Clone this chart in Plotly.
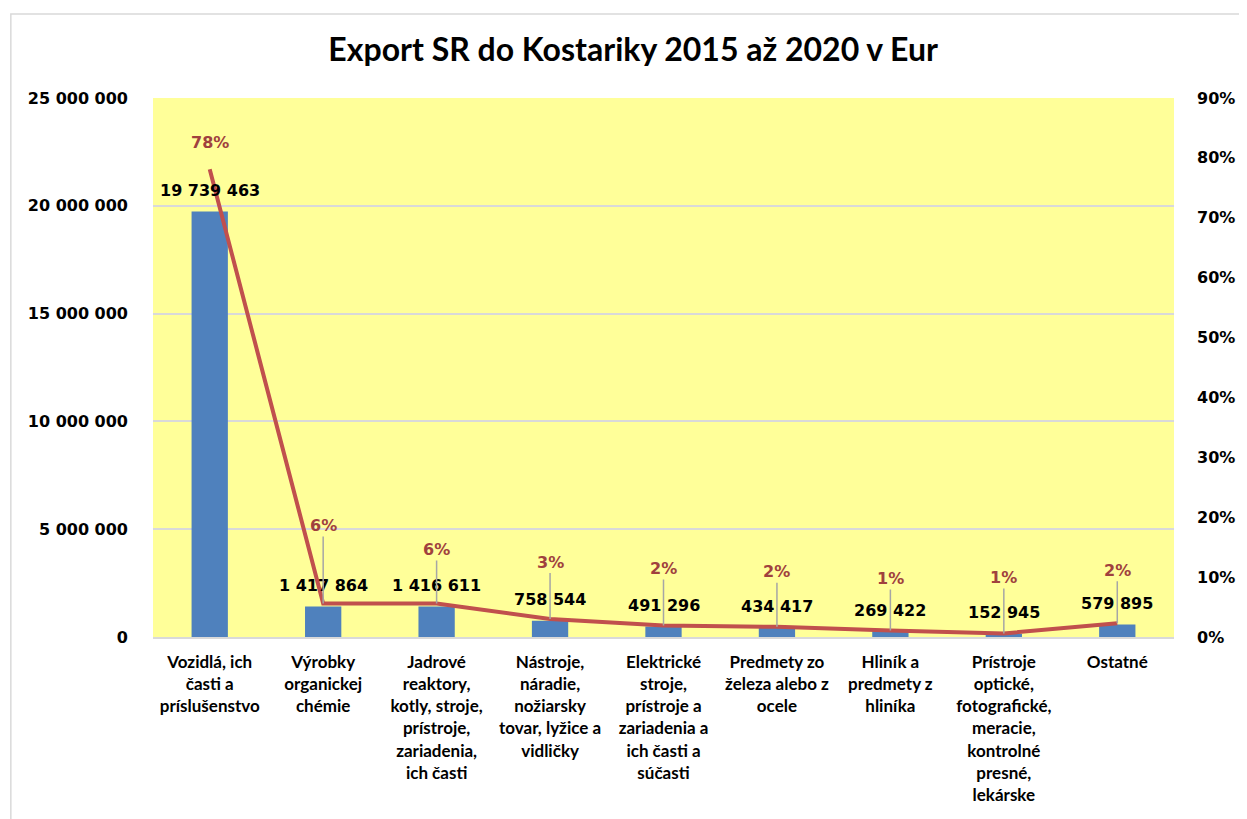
import plotly.graph_objects as go

categories = [
    "Vozidlá, ich<br>časti a<br>príslušenstvo",
    "Výrobky<br>organickej<br>chémie",
    "Jadrové<br>reaktory,<br>kotly, stroje,<br>prístroje,<br>zariadenia,<br>ich časti",
    "Nástroje,<br>náradie,<br>nožiarsky<br>tovar, lyžice a<br>vidličky",
    "Elektrické<br>stroje,<br>prístroje a<br>zariadenia a<br>ich časti a<br>súčasti",
    "Predmety zo<br>železa alebo z<br>ocele",
    "Hliník a<br>predmety z<br>hliníka",
    "Prístroje<br>optické,<br>fotografické,<br>meracie,<br>kontrolné<br>presné,<br>lekárske",
    "Ostatné",
]
export_eur = [19739463, 1417864, 1416611, 758544, 491296, 434417, 269422, 152945, 579895]
share_pct = [78.1, 5.6, 5.6, 3.0, 1.9, 1.7, 1.1, 0.6, 2.3]
share_labels = ["78%", "6%", "6%", "3%", "2%", "2%", "1%", "1%", "2%"]
left_ticks = [0, 5000000, 10000000, 15000000, 20000000, 25000000]
left_tick_text = ["0", "5 000 000", "10 000 000", "15 000 000", "20 000 000", "25 000 000"]

BAR = "#4F81BD"
LINE = "#C0504D"
PCT = "#A0413E"
GRID = "#D9D9D9"
TICKFONT = dict(family="DejaVu Sans", size=16, color="#000000")

# page body has an 8px margin, so the figure is offset by 8px
W, H = 1239, 811
L, T = 145, 90
PW, PH = 1027, 539

fig = go.Figure()
fig.add_trace(go.Bar(x=categories, y=export_eur, marker=dict(color=BAR, line=dict(width=0)),
                     width=0.32, yaxis="y", hoverinfo="y"))
fig.add_trace(go.Scatter(x=categories, y=share_pct, mode="lines", yaxis="y2",
                         line=dict(color=LINE, width=4)))

annotations = []
for c, v in zip(categories, export_eur):
    annotations.append(dict(x=c, y=v, xref="x", yref="y", text="<b>" + f"{v:,}".replace(",", " ") + "</b>",
                            showarrow=False, yshift=21, font=dict(family="DejaVu Sans", size=16, color="#000"),
                            yanchor="middle"))
pct_offsets = [27, 78, 54, 57, 57, 55, 52, 56, 53]
for i, (c, p, lab) in enumerate(zip(categories, share_pct, share_labels)):
    if i == 0:
        annotations.append(dict(x=c, y=p, xref="x", yref="y2", text="<b>" + lab + "</b>", showarrow=False,
                                yshift=pct_offsets[i], font=dict(family="DejaVu Sans", size=16, color=PCT)))
    else:
        annotations.append(dict(x=c, y=p, xref="x", yref="y2", text="<b>" + lab + "</b>", showarrow=True,
                                arrowhead=0, arrowwidth=1.5, arrowcolor="#A6A6A6", ax=0, ay=-pct_offsets[i],
                                standoff=0, font=dict(family="DejaVu Sans", size=16, color=PCT)))

fig.update_layout(
    width=W, height=H,
    margin=dict(l=L, r=W - L - PW, t=T, b=H - T - PH, pad=0),
    paper_bgcolor="white", plot_bgcolor="#FFFF99",
    showlegend=False,
    title=dict(text="<b>Export SR do Kostariky 2015 až 2020 v Eur</b>", x=(636 - 8 - L) / PW, xref="paper",
               xanchor="center", y=1 - (50 - 8) / H, yanchor="middle",
               font=dict(family="Lato", size=32, color="#000")),
    xaxis=dict(showgrid=False, showline=True, linecolor=GRID, linewidth=1.5, ticks="",
               tickfont=dict(family="Lato", size=17, color="#000"), ticklabelstandoff=9, tickangle=0),
    yaxis=dict(range=[0, 25000000], tickvals=left_ticks, ticktext=["<b>" + t + "</b>" for t in left_tick_text],
               showgrid=True, gridcolor=GRID, gridwidth=1.5, zeroline=False, tickfont=TICKFONT,
               ticklabelstandoff=24, fixedrange=True),
    yaxis2=dict(range=[0, 90], overlaying="y", side="right", tickvals=list(range(0, 91, 10)),
                ticktext=["<b>%d%%</b>" % t for t in range(0, 91, 10)], showgrid=False, zeroline=False,
                tickfont=TICKFONT, ticklabelstandoff=22),
    annotations=annotations,
    shapes=[dict(type="rect", xref="paper", yref="paper",
                 x0=(10 - 8 - L) / PW, x1=(1300 - L) / PW, y0=-(H - T - PH + 20) / PH,
                 y1=1 + (T - 6) / PH,
                 line=dict(color=GRID, width=1.5), fillcolor="rgba(0,0,0,0)", layer="below")],
)
fig.update_xaxes(ticktext=["<b>" + c + "</b>" for c in categories], tickvals=categories)

fig.write_html("out.html")
